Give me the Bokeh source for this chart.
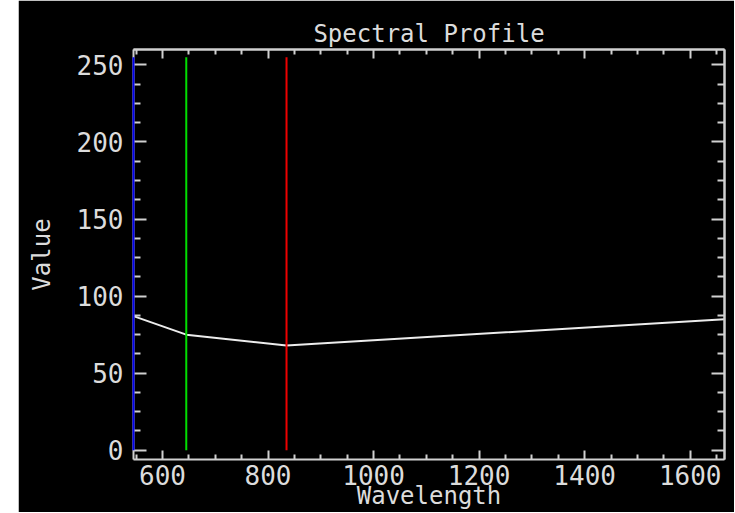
import numpy as np
from bokeh.plotting import figure
from bokeh.models import LinearAxis, FixedTicker, Range1d
from bokeh.embed import file_html
from bokeh.resources import INLINE

# Spectral profile data (band centre wavelengths, values)
wavelengths = [545, 645, 835, 1665]
values = [87, 75, 68, 85]

# Display-band markers (RGB composite bands)
band_wavelengths = [545, 645, 835]
band_colors = ["#0000ee", "#00dd00", "#ee0000"]
band_low = [0, 0, 0]
band_high = [255, 255, 255]

# Axis ranges and ticks
x_start, x_end = 545, 1665
y_start, y_end = -6, 260
x_major_ticks = [600, 800, 1000, 1200, 1400, 1600]
x_minor_ticks = [550, 650, 700, 750, 850, 900, 950, 1050, 1100, 1150,
                 1250, 1300, 1350, 1450, 1500, 1550, 1650]
y_major_ticks = [0, 50, 100, 150, 200, 250]
y_minor_ticks = [12.5, 25, 37.5, 62.5, 75, 87.5, 112.5, 125, 137.5,
                 162.5, 175, 187.5, 212.5, 225, 237.5]

FG = "#dcdcdc"
AX = "#d0d0d0"
FONT = "DejaVu Sans Mono"

p = figure(width=716, height=512, output_backend="svg", toolbar_location=None,
           x_range=Range1d(x_start, x_end), y_range=Range1d(y_start, y_end),
           background_fill_color="black", border_fill_color="black",
           min_border_left=115, min_border_right=10, min_border_top=49, min_border_bottom=40,
           title="Spectral Profile")
p.margin = (0, 0, 0, 18)
p.outline_line_color = None
p.grid.visible = False

p.title.align = "center"
p.title.text_color = FG
p.title.text_font = FONT
p.title.text_font_size = "24px"
p.title.text_font_style = "normal"
p.title.standoff = 4


def base_style(ax):
    ax.axis_line_color = AX
    ax.axis_line_width = 2
    ax.major_tick_line_color = AX
    ax.minor_tick_line_color = AX
    ax.major_tick_line_width = 2
    ax.minor_tick_line_width = 2
    ax.major_tick_out = 0
    ax.minor_tick_out = 0


p.xaxis.ticker = FixedTicker(ticks=x_major_ticks, minor_ticks=x_minor_ticks)
p.yaxis.ticker = FixedTicker(ticks=y_major_ticks, minor_ticks=y_minor_ticks)
p.xaxis.axis_label = "Wavelength"
p.yaxis.axis_label = "Value"
for ax, major_in, minor_in in [(p.xaxis[0], 9, 5), (p.yaxis[0], 13, 7)]:
    base_style(ax)
    ax.major_tick_in = major_in
    ax.minor_tick_in = minor_in
    ax.major_label_text_color = FG
    ax.major_label_text_font = FONT
    ax.major_label_text_font_size = "26px"
    ax.axis_label_text_color = FG
    ax.axis_label_text_font = FONT
    ax.axis_label_text_font_size = "24px"
    ax.axis_label_text_font_style = "normal"
p.xaxis.major_label_standoff = 5
p.xaxis.axis_label_standoff = -6
p.yaxis.major_label_standoff = 10
p.yaxis.axis_label_standoff = 18


def tick_only_axis(positions, length):
    ax = LinearAxis(ticker=FixedTicker(ticks=[], minor_ticks=positions))
    base_style(ax)
    ax.major_tick_in = 0
    ax.minor_tick_in = length
    ax.major_label_standoff = 0
    return ax


p.add_layout(tick_only_axis(x_major_ticks, 9), "above")
p.add_layout(tick_only_axis(x_minor_ticks, 5), "above")
p.add_layout(tick_only_axis(y_major_ticks, 13), "right")
p.add_layout(tick_only_axis(y_minor_ticks, 7), "right")

p.line(wavelengths, values, line_color="#ececec", line_width=2)
seg = p.segment(x0=band_wavelengths, y0=band_low, x1=band_wavelengths, y1=band_high,
                line_color=band_colors, line_width=2)
seg.level = "overlay"

open("out.html", "w").write(file_html(p, INLINE))
